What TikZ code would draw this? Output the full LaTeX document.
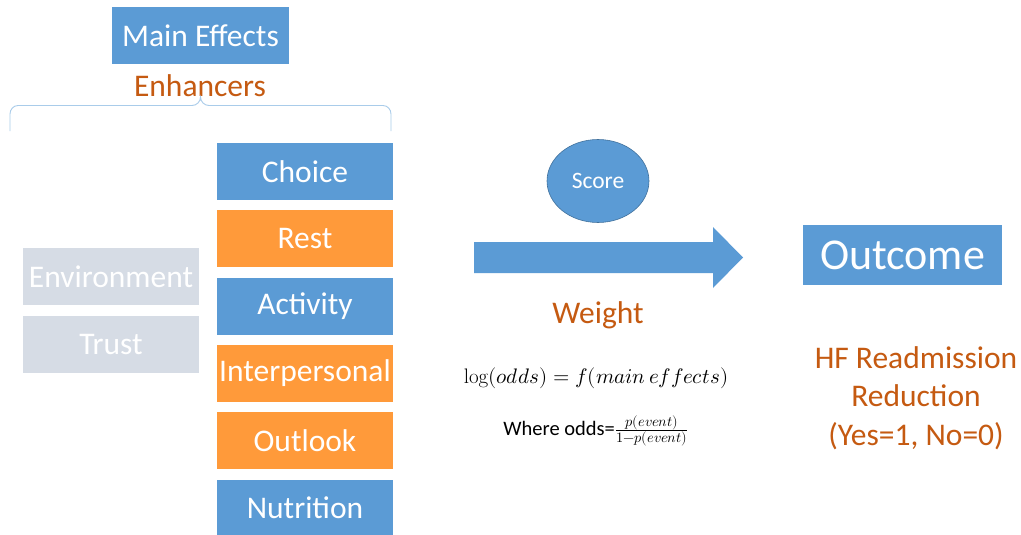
\documentclass[tikz,border=0pt]{standalone}
\usepackage{fontspec}
\usepackage{unicode-math}
\setmainfont{Carlito}
\setmathfont{Latin Modern Math}
\setmathrm{Latin Modern Roman}
\usetikzlibrary{shapes.geometric}
\definecolor{boxblue}{HTML}{5B9BD5}
\definecolor{boxorange}{HTML}{FF9A3A}
\definecolor{boxgray}{HTML}{D6DCE5}
\definecolor{textorange}{HTML}{C55A11}
\definecolor{bracecol}{HTML}{A9CCEA}
\definecolor{edgeblue}{HTML}{41719C}
\begin{document}
\begin{tikzpicture}[x=1pt,y=-1pt,
  box/.style={rectangle,inner sep=0pt,minimum width=176pt,minimum height=57pt,
    text=white,font=\fontsize{31.5}{36}\selectfont},
  bluebox/.style={box,fill=boxblue},
  orangebox/.style={box,fill=boxorange},
  graybox/.style={box,fill=boxgray},
  label/.style={text=textorange,font=\fontsize{31.5}{38.5}\selectfont,inner sep=0pt,align=center}]
\useasboundingbox (0,0) rectangle (1021,535);
\fill[white] (0,0) rectangle (1021,535);

% header and bracket
\node[bluebox,minimum width=177pt] (main) at (200.5,35.5) {Main Effects};
\node[label] (enh) at (200,85.5) {Enhancers};
\draw[bracecol,line width=0.9pt]
  (10,131) -- (10,114) to[out=90,in=180] (18,105.5) -- (192,105.5)
  to[out=0,in=-90] (200.5,97) to[out=-90,in=180] (209,105.5) -- (383,105.5)
  to[out=0,in=90] (391,114) -- (391,131);

% factor column
\node[bluebox]   (choice) at (305,171.5) {Choice};
\node[orangebox] (rest)   at (305,238.5) {Rest};
\node[bluebox]   (act)    at (305,306)   {Activity};
\node[orangebox] (inter)  at (305,373.5) {Interpersonal};
\node[orangebox] (look)   at (305,440.5) {Outlook};
\node[bluebox,minimum height=56pt] (nutr) at (305,508) {Nutrition};

% context factors
\node[graybox] (env)   at (111,276.5) {Environment};
\node[graybox] (trust) at (111,344.5) {Trust};

% score and weight
\node[ellipse,fill=boxblue,draw=edgeblue,line width=0.6pt,minimum width=102pt,
  minimum height=83pt,inner sep=0pt,text=white,
  font=\fontsize{23.5}{28}\selectfont] (score) at (598,181) {Score};
\fill[boxblue] (474,242) -- (713,242) -- (713,227) -- (743,257.5)
  -- (713,288) -- (713,273) -- (474,273) -- cycle;
\node[label] (weight) at (598,315) {Weight};

% model equation
\node[inner sep=0pt,font=\fontsize{21}{25}\selectfont] (logit) at (596,378)
  {$\log(odds) = f(main\,effects)$};
\node[inner sep=0pt,font=\fontsize{20.5}{24}\selectfont] (odds) at (596,431)
  {Where odds=$\frac{p(event)}{1-p(event)}$};

% outcome
\node[bluebox,minimum width=199pt,minimum height=60pt,
  font=\fontsize{44}{50}\selectfont] (out) at (902.5,255) {Outcome};
\node[label] (hf) at (916,398) {HF Readmission\\Reduction\\(Yes=1, No=0)};
\end{tikzpicture}
\end{document}
